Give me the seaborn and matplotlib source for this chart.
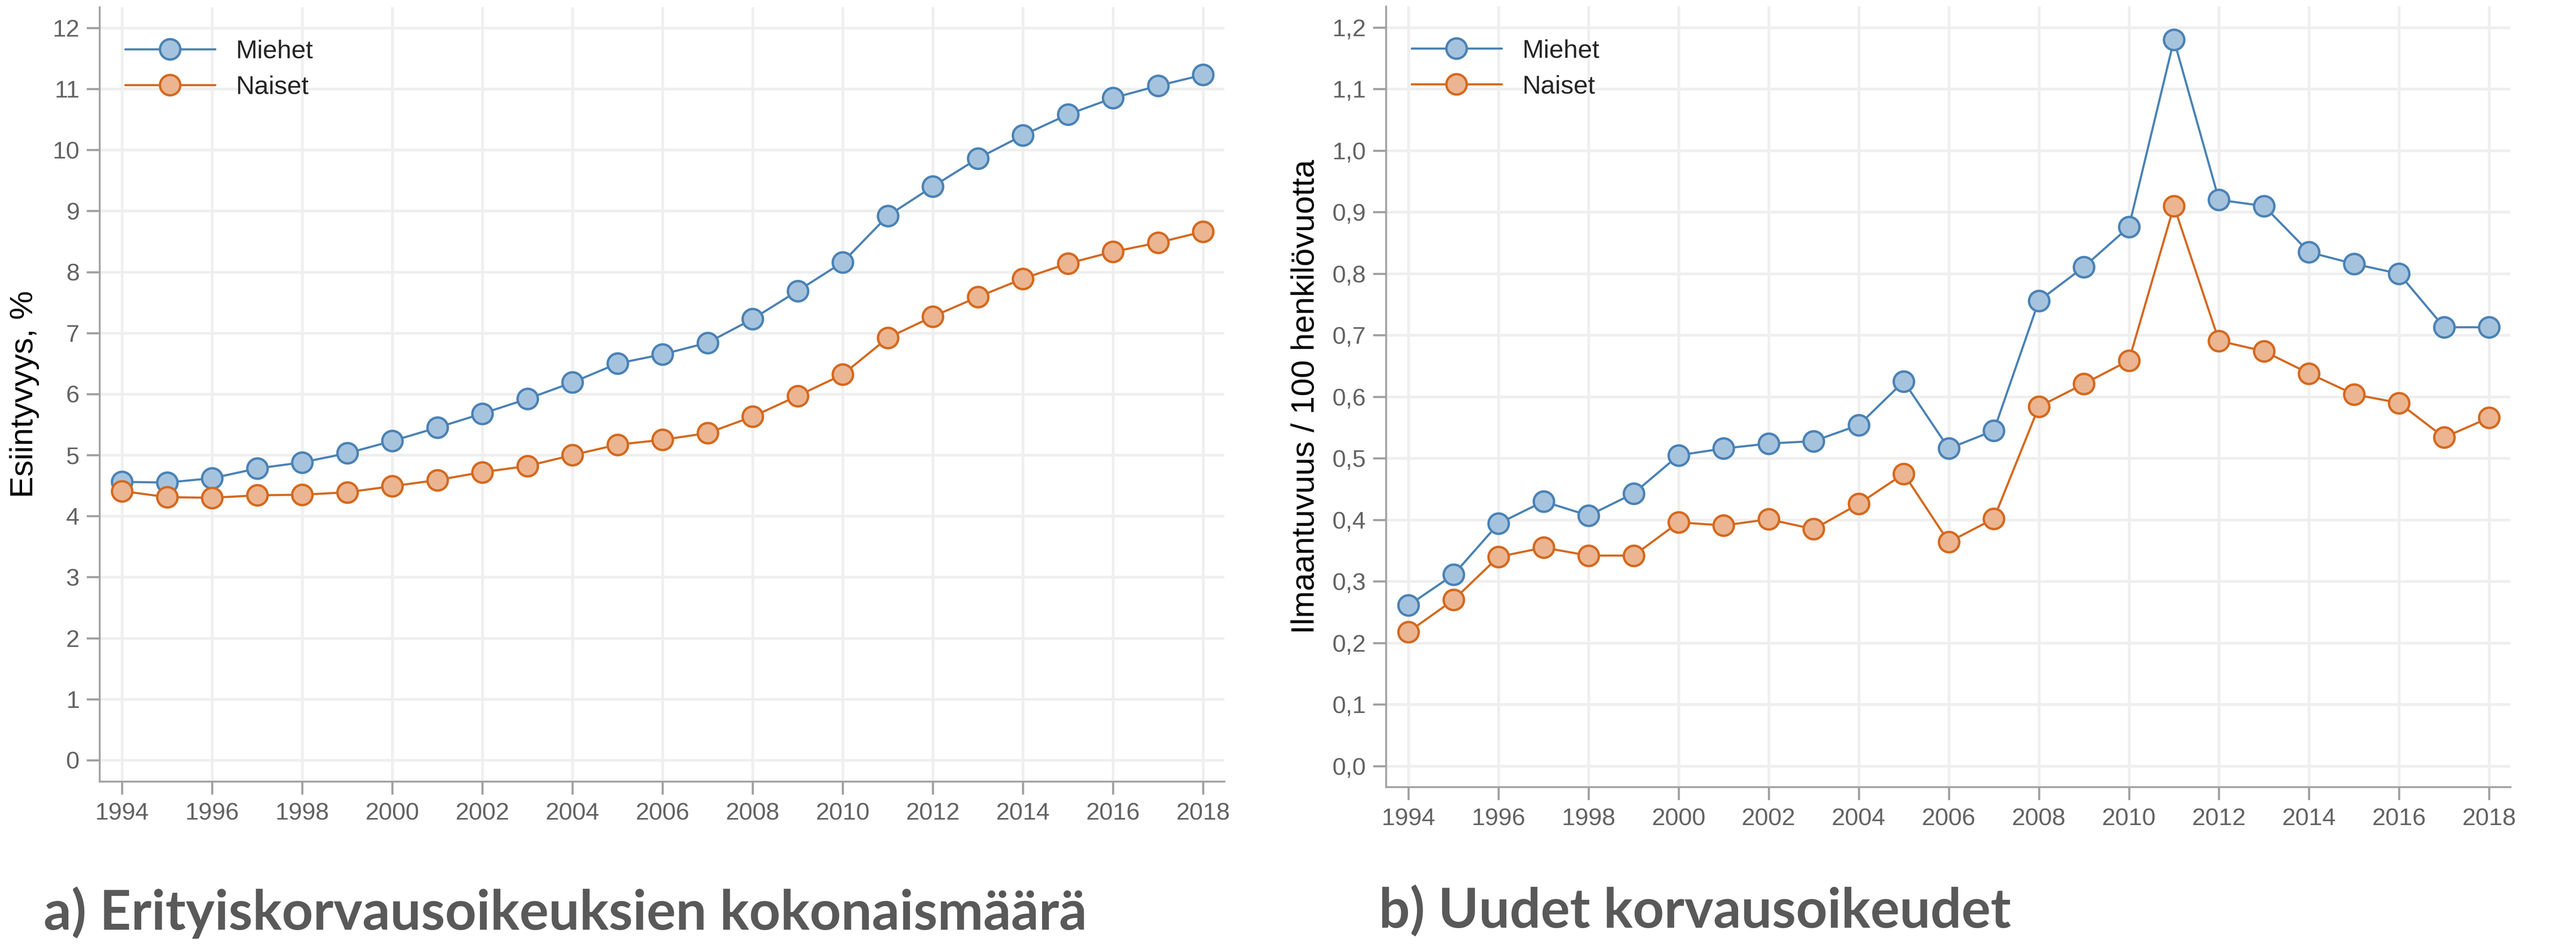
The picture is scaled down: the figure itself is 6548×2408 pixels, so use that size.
import numpy as np
import pandas as pd
import matplotlib
matplotlib.use("Agg")
import matplotlib.pyplot as plt
import seaborn as sns

# Data
years = [1994, 1995, 1996, 1997, 1998, 1999, 2000, 2001, 2002, 2003, 2004, 2005,
         2006, 2007, 2008, 2009, 2010, 2011, 2012, 2013, 2014, 2015, 2016, 2017, 2018]

# a) prevalence, %
a_miehet = [4.56, 4.55, 4.62, 4.78, 4.88, 5.03, 5.23, 5.45, 5.68, 5.92, 6.19, 6.50,
            6.65, 6.84, 7.23, 7.69, 8.16, 8.92, 9.40, 9.86, 10.24, 10.58, 10.85, 11.05, 11.23]
a_naiset = [4.41, 4.31, 4.30, 4.34, 4.35, 4.39, 4.49, 4.59, 4.72, 4.82, 5.00, 5.17,
            5.25, 5.36, 5.63, 5.97, 6.32, 6.92, 7.27, 7.59, 7.89, 8.14, 8.33, 8.48, 8.66]

# b) incidence / 100 person-years
b_miehet = [0.261, 0.311, 0.394, 0.430, 0.407, 0.443, 0.505, 0.516, 0.524, 0.528, 0.554, 0.625,
            0.516, 0.545, 0.756, 0.811, 0.876, 1.180, 0.920, 0.910, 0.835, 0.816, 0.800, 0.713, 0.713]
b_naiset = [0.218, 0.270, 0.340, 0.355, 0.342, 0.342, 0.396, 0.391, 0.401, 0.385, 0.426, 0.475,
            0.364, 0.402, 0.584, 0.621, 0.659, 0.910, 0.691, 0.674, 0.638, 0.604, 0.590, 0.534, 0.566]

series_labels = ["Miehet", "Naiset"]
a_ticks = [0, 1, 2, 3, 4, 5, 6, 7, 8, 9, 10, 11, 12]
b_ticks = [0.0, 0.1, 0.2, 0.3, 0.4, 0.5, 0.6, 0.7, 0.8, 0.9, 1.0, 1.1, 1.2]
year_ticks = [1994, 1996, 1998, 2000, 2002, 2004, 2006, 2008, 2010, 2012, 2014, 2016, 2018]

sns.set_style("white")
plt.rcParams["font.family"] = ["Liberation Sans", "DejaVu Sans"]

W, H, DPI = 6549, 2408, 300
fig = plt.figure(figsize=(W / DPI, H / DPI), dpi=DPI)

line_colors = {"Miehet": "#4a82b5", "Naiset": "#d4691f"}
face_colors = {"Miehet": "#a6c3de", "Naiset": "#ebb591"}
spine_col = "#a0a0a0"
grid_col = "#efefef"
tick_lab_col = "#636363"
title_col = "#595959"


def px_axes(x0, x1, y0, y1):
    return fig.add_axes([x0 / W, 1 - y1 / H, (x1 - x0) / W, (y1 - y0) / H])


def draw_panel(ax, men, women, yticks, ylim, ylabel, fmt, label_xy, leg_xy):
    df = pd.DataFrame({"year": years, "Miehet": men, "Naiset": women})
    for name in series_labels:
        sns.lineplot(data=df, x="year", y=name, ax=ax, color=line_colors[name],
                     marker="o", markersize=12.4, markerfacecolor=face_colors[name],
                     markeredgecolor=line_colors[name], markeredgewidth=1.45,
                     linewidth=1.3, label=name, zorder=3)
    ax.set_xlim(1993.5, 2018.47)
    ax.set_ylim(*ylim)
    ax.set_xticks(year_ticks)
    ax.set_xticklabels([str(y) for y in year_ticks])
    ax.set_yticks(yticks)
    ax.set_yticklabels([fmt(v) for v in yticks])
    ax.grid(True, color=grid_col, linewidth=1.7)
    ax.set_axisbelow(True)
    for s in ["top", "right"]:
        ax.spines[s].set_visible(False)
    for s in ["left", "bottom"]:
        ax.spines[s].set_color(spine_col)
        ax.spines[s].set_linewidth(1.1)
    ax.tick_params(axis="both", which="major", direction="out", length=7.9, width=1.3,
                   color=spine_col, labelcolor=tick_lab_col, labelsize=14.8)
    ax.tick_params(axis="y", pad=4.3, left=True)
    ax.tick_params(axis="x", pad=5.0, bottom=True)
    ax.set_xlabel("")
    ax.set_ylabel(ylabel, fontsize=19.8, color="black")
    ax.yaxis.set_label_coords(*label_xy)
    ax.legend(loc="upper left", bbox_to_anchor=leg_xy, frameon=False, fontsize=15.7,
              borderpad=0, borderaxespad=0, handlelength=3.5, handletextpad=0.8,
              labelspacing=0.47)


ax1 = px_axes(253, 3112, 18, 1987)
draw_panel(ax1, a_miehet, a_naiset, a_ticks, (-0.348, 12.34), "Esiintyvyys, %",
           lambda v: f"{v:d}", (-0.0535, 0.5), (0.0227, 0.958))

ax2 = px_axes(3523, 6381, 16, 2001)
draw_panel(ax2, b_miehet, b_naiset, b_ticks, (-0.0339, 1.2345),
           "Ilmaantuvuus / 100 henkilövuotta",
           lambda v: f"{v:.1f}".replace(".", ","), (-0.0581, 0.5), (0.0227, 0.958))

# Panel captions
t1 = fig.text(111 / W, 1 - 2364 / H, "a) Erityiskorvausoikeuksien kokonaismäärä",
              family=["Lato", "DejaVu Sans"], weight="bold", color=title_col,
              fontsize=31, va="baseline", ha="left")
t2 = fig.text(3505 / W, 1 - 2360 / H, "b) Uudet korvausoikeudet",
              family=["Lato", "DejaVu Sans"], weight="bold", color=title_col,
              fontsize=31, va="baseline", ha="left")

# scale caption size so that caption a) spans the same width as in the reference
fig.canvas.draw()
r = fig.canvas.get_renderer()
w = t1.get_window_extent(r).width
fs = 31 * 2655 / w
t1.set_fontsize(fs)
t2.set_fontsize(fs)

fig.savefig("out.png", dpi=DPI)
